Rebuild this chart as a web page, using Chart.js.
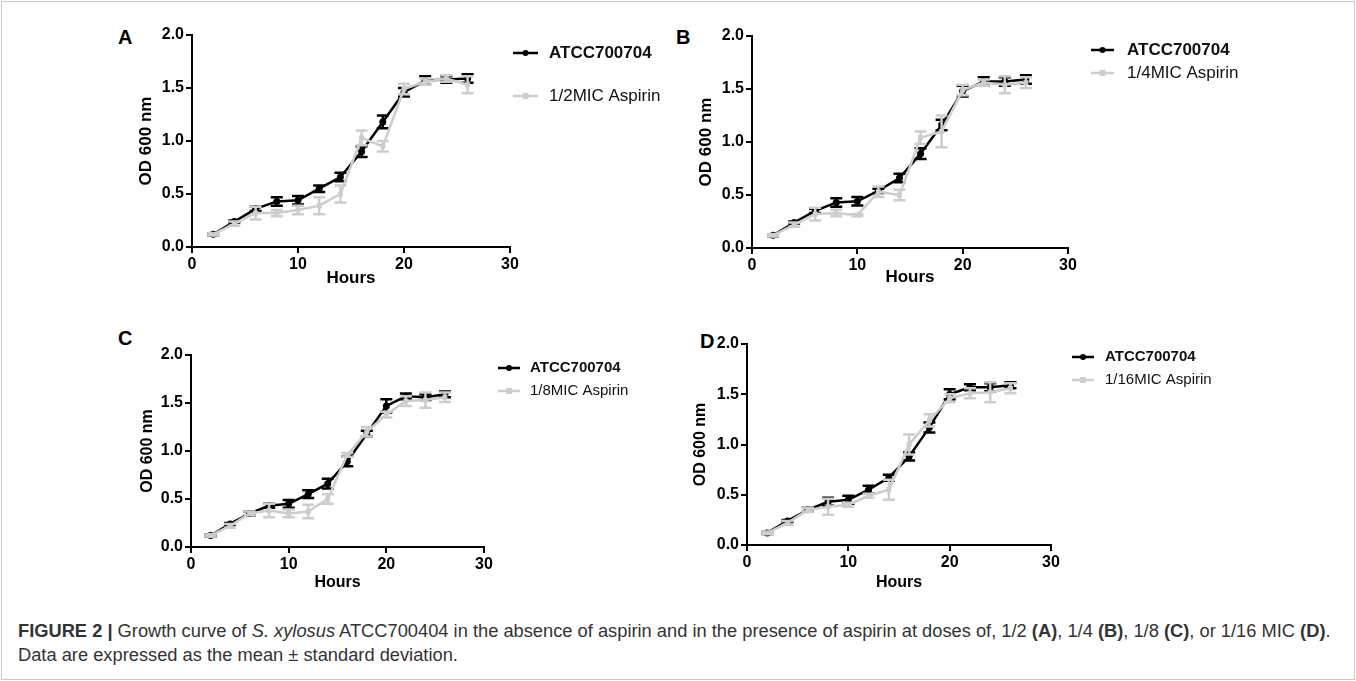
<!DOCTYPE html>
<html>
<head>
<meta charset="utf-8">
<script src="https://cdn.jsdelivr.net/npm/chart.js@4.4.1/dist/chart.umd.min.js"></script>
<style>
  html, body { margin: 0; padding: 0; background: #fff; }
  #fig { position: relative; width: 1356px; height: 681px; overflow: hidden;
         font-family: "Liberation Sans", Arial, sans-serif; }
  #frame { position: absolute; left: 1px; top: 1px; width: 1352px; height: 677px;
           border: 1px solid #c8c8c8; }
  canvas { position: absolute; }
  .letter { position: absolute; font-weight: bold; font-size: 20px; line-height: 20px; color: #000; }
  .cap { position: absolute; left: 18px; top: 619px; font-size: 18.3px; line-height: 24px; color: #333; white-space: nowrap; }
</style>
</head>
<body>
<div id="fig">
  <div id="frame"></div>
  <div class="letter" style="left:118px;top:27px">A</div>
  <div class="letter" style="left:676px;top:27px">B</div>
  <div class="letter" style="left:118px;top:328px">C</div>
  <div class="letter" style="left:700px;top:331px">D</div>
  <canvas id="chartA"></canvas>
  <canvas id="chartB"></canvas>
  <canvas id="chartC"></canvas>
  <canvas id="chartD"></canvas>
  <div class="cap"><b>FIGURE 2 |</b> Growth curve of <i>S. xylosus</i> ATCC700404 in the absence of aspirin and in the presence of aspirin at doses of, 1/2 <b>(A)</b>, 1/4 <b>(B)</b>, 1/8 <b>(C)</b>, or 1/16 MIC <b>(D)</b>.<br>Data are expressed as the mean &plusmn; standard deviation.</div>
</div>
<script>
const hours = [2, 4, 6, 8, 10, 12, 14, 16, 18, 20, 22, 24, 26];
const ctrlLabel = 'ATCC700704';

const ctrlA = [0.12, 0.24, 0.36, 0.43, 0.44, 0.55, 0.66, 0.90, 1.18, 1.46, 1.57, 1.58, 1.59];
const ctrlErrA = [0.01, 0.01, 0.02, 0.04, 0.04, 0.03, 0.04, 0.05, 0.06, 0.04, 0.04, 0.03, 0.04];
const aspA = [0.12, 0.22, 0.32, 0.32, 0.35, 0.39, 0.50, 1.03, 0.95, 1.49, 1.56, 1.59, 1.53];
const aspErrA = [0.01, 0.02, 0.06, 0.03, 0.04, 0.08, 0.08, 0.07, 0.05, 0.05, 0.03, 0.03, 0.08];

const ctrlB = [0.12, 0.24, 0.35, 0.43, 0.44, 0.54, 0.66, 0.89, 1.16, 1.48, 1.57, 1.57, 1.59];
const ctrlErrB = [0.01, 0.01, 0.02, 0.04, 0.04, 0.02, 0.04, 0.05, 0.05, 0.05, 0.04, 0.04, 0.04];
const aspB = [0.12, 0.22, 0.32, 0.33, 0.31, 0.53, 0.50, 1.04, 1.10, 1.49, 1.56, 1.54, 1.56];
const aspErrB = [0.01, 0.02, 0.06, 0.03, 0.01, 0.05, 0.05, 0.06, 0.15, 0.05, 0.03, 0.08, 0.05];

const ctrlC = [0.12, 0.24, 0.35, 0.43, 0.45, 0.55, 0.66, 0.89, 1.18, 1.47, 1.57, 1.56, 1.59];
const ctrlErrC = [0.01, 0.01, 0.02, 0.02, 0.04, 0.04, 0.05, 0.05, 0.03, 0.07, 0.03, 0.03, 0.03];
const aspC = [0.12, 0.22, 0.35, 0.38, 0.35, 0.37, 0.50, 0.96, 1.20, 1.38, 1.52, 1.53, 1.56];
const aspErrC = [0.01, 0.02, 0.02, 0.07, 0.04, 0.07, 0.05, 0.02, 0.05, 0.03, 0.05, 0.08, 0.05];

const ctrlD = [0.12, 0.24, 0.35, 0.43, 0.45, 0.55, 0.67, 0.88, 1.17, 1.50, 1.57, 1.57, 1.59];
const ctrlErrD = [0.01, 0.01, 0.02, 0.04, 0.04, 0.04, 0.03, 0.04, 0.05, 0.05, 0.03, 0.04, 0.03];
const aspD = [0.12, 0.22, 0.35, 0.38, 0.40, 0.49, 0.55, 1.00, 1.24, 1.46, 1.51, 1.52, 1.56];
const aspErrD = [0.01, 0.02, 0.02, 0.08, 0.02, 0.02, 0.10, 0.10, 0.06, 0.04, 0.05, 0.10, 0.05];

const xTicks = [0, 10, 20, 30];
const yTicks = [0, 0.5, 1.0, 1.5, 2.0];

const BLACK = '#000000';
const GREY = '#cdcdcd';
const FONT = '"Liberation Sans", Arial, sans-serif';

// error bars, drawn just under each dataset
const errorBars = {
    id: 'errorBars',
    beforeDatasetDraw(chart, args) {
        const ds = chart.data.datasets[args.index];
        if (!ds.errors) return;
        const { ctx, scales: { x, y } } = chart;
        ctx.save();
        ctx.strokeStyle = ds.borderColor;
        ctx.lineWidth = 2.5;
        ds.data.forEach((p, i) => {
            const e = ds.errors[i];
            const px = x.getPixelForValue(p.x);
            const top = y.getPixelForValue(p.y + e);
            const bot = y.getPixelForValue(p.y - e);
            ctx.beginPath();
            ctx.moveTo(px, top); ctx.lineTo(px, bot);
            ctx.moveTo(px - 6, top); ctx.lineTo(px + 6, top);
            ctx.moveTo(px - 6, bot); ctx.lineTo(px + 6, bot);
            ctx.stroke();
        });
        ctx.restore();
    }
};

// legend to the right of the plot, first entry bold
const sideLegend = {
    id: 'sideLegend',
    afterDraw(chart, args, opts) {
        const { ctx } = chart;
        ctx.save();
        opts.rows.forEach((row, i) => {
            const ds = chart.data.datasets[i];
            const y = row.y;
            ctx.strokeStyle = ds.borderColor;
            ctx.lineWidth = 2.5;
            ctx.beginPath();
            ctx.moveTo(opts.x1, y); ctx.lineTo(opts.x2, y);
            ctx.stroke();
            ctx.fillStyle = ds.borderColor;
            const mx = (opts.x1 + opts.x2) / 2;
            if (ds.pointStyle === 'rect') {
                ctx.fillRect(mx - 3, y - 3, 6, 6);
            } else {
                ctx.beginPath(); ctx.arc(mx, y, 3, 0, Math.PI * 2); ctx.fill();
            }
            ctx.fillStyle = '#111';
            ctx.font = (i === 0 ? 'bold ' : '') + opts.size + 'px ' + FONT;
            ctx.textBaseline = 'middle';
            ctx.fillText(ds.label, opts.textX, y);
        });
        ctx.restore();
    }
};

function makePanel(id, p) {
    const el = document.getElementById(id);
    const cl = p.yTitleX - 12, ct = p.plot.t - 22;
    const cw = p.canvasRight - cl, ch = p.xTitleY + 20 - ct;
    el.style.left = cl + 'px';
    el.style.top = ct + 'px';
    el.width = cw; el.height = ch;
    el.style.width = cw + 'px'; el.style.height = ch + 'px';
    const xBottom = p.xTitleY + p.titleSize * 0.6;

    const toPts = vals => hours.map((h, i) => ({ x: h, y: vals[i] }));
    const axisCommon = {
        border: { display: true, color: BLACK, width: 2 },
        grid: { display: true, drawOnChartArea: false, drawTicks: true, tickLength: 6, color: BLACK, lineWidth: 2 },
    };

    new Chart(el, {
        type: 'line',
        data: {
            datasets: [
                {
                    label: ctrlLabel, data: toPts(p.ctrl), errors: p.ctrlErr,
                    borderColor: BLACK, backgroundColor: BLACK, borderWidth: 2.5,
                    pointStyle: 'circle', pointRadius: 3.5, pointBorderWidth: 0,
                    tension: 0, order: 1
                },
                {
                    label: p.aspLabel, data: toPts(p.asp), errors: p.aspErr,
                    borderColor: GREY, backgroundColor: GREY, borderWidth: 2.5,
                    pointStyle: 'rect', pointRadius: 3.5, pointBorderWidth: 0,
                    tension: 0, order: 0
                }
            ]
        },
        options: {
            responsive: false,
            animation: false,
            devicePixelRatio: 1,
            layout: {
                padding: {
                    left: 0,
                    top: p.plot.t - ct,
                    right: cl + cw - p.plot.r,
                    bottom: ct + ch - xBottom
                }
            },
            plugins: {
                legend: { display: false },
                tooltip: { enabled: false },
                sideLegend: {
                    x1: p.legend.x1 - cl, x2: p.legend.x2 - cl, textX: p.legend.textX - cl,
                    size: p.legend.size,
                    rows: [{ y: p.legend.y1 - ct }, { y: p.legend.y2 - ct }]
                }
            },
            scales: {
                x: {
                    type: 'linear', min: 0, max: 30,
                    ...axisCommon,
                    afterFit: s => { s.height = xBottom - p.plot.b; },
                    afterBuildTicks: s => { s.ticks = xTicks.map(v => ({ value: v })); },
                    ticks: { color: BLACK, padding: 2, font: { family: FONT, size: 16, weight: 'bold' } },
                    title: { display: true, text: 'Hours', color: BLACK, padding: 0,
                             font: { family: FONT, size: p.titleSize, weight: 'bold', lineHeight: 1.2 } }
                },
                y: {
                    type: 'linear', min: 0, max: 2,
                    ...axisCommon,
                    afterFit: s => { s.width = p.plot.l - cl; },
                    afterBuildTicks: s => { s.ticks = yTicks.map(v => ({ value: v })); },
                    ticks: { color: BLACK, padding: 2, callback: v => v.toFixed(1),
                             font: { family: FONT, size: 16, weight: 'bold' } },
                    title: { display: true, text: 'OD 600 nm', color: BLACK, padding: 0,
                             font: { family: FONT, size: p.titleSize, weight: 'bold', lineHeight: 1.2 } }
                }
            }
        },
        plugins: [errorBars, sideLegend]
    });
}

makePanel('chartA', {
    ctrl: ctrlA, ctrlErr: ctrlErrA, asp: aspA, aspErr: aspErrA, aspLabel: '1/2MIC Aspirin',
    plot: { l: 192, r: 510, t: 35, b: 247 }, yTitleX: 148, xTitleY: 278, titleSize: 17, canvasRight: 670,
    legend: { x1: 513, x2: 538, textX: 549, y1: 53, y2: 96, size: 17 }
});
makePanel('chartB', {
    ctrl: ctrlB, ctrlErr: ctrlErrB, asp: aspB, aspErr: aspErrB, aspLabel: '1/4MIC Aspirin',
    plot: { l: 752, r: 1068, t: 36, b: 248 }, yTitleX: 708, xTitleY: 277, titleSize: 17, canvasRight: 1300,
    legend: { x1: 1091, x2: 1114, textX: 1127, y1: 50, y2: 73, size: 17 }
});
makePanel('chartC', {
    ctrl: ctrlC, ctrlErr: ctrlErrC, asp: aspC, aspErr: aspErrC, aspLabel: '1/8MIC Aspirin',
    plot: { l: 191, r: 484, t: 355, b: 547 }, yTitleX: 150, xTitleY: 583, titleSize: 16, canvasRight: 670,
    legend: { x1: 498, x2: 520, textX: 530, y1: 368, y2: 391, size: 15 }
});
makePanel('chartD', {
    ctrl: ctrlD, ctrlErr: ctrlErrD, asp: aspD, aspErr: aspErrD, aspLabel: '1/16MIC Aspirin',
    plot: { l: 747, r: 1051, t: 344, b: 545 }, yTitleX: 703, xTitleY: 583, titleSize: 16, canvasRight: 1300,
    legend: { x1: 1072, x2: 1094, textX: 1105, y1: 357, y2: 380, size: 15 }
});
</script>
</body>
</html>
